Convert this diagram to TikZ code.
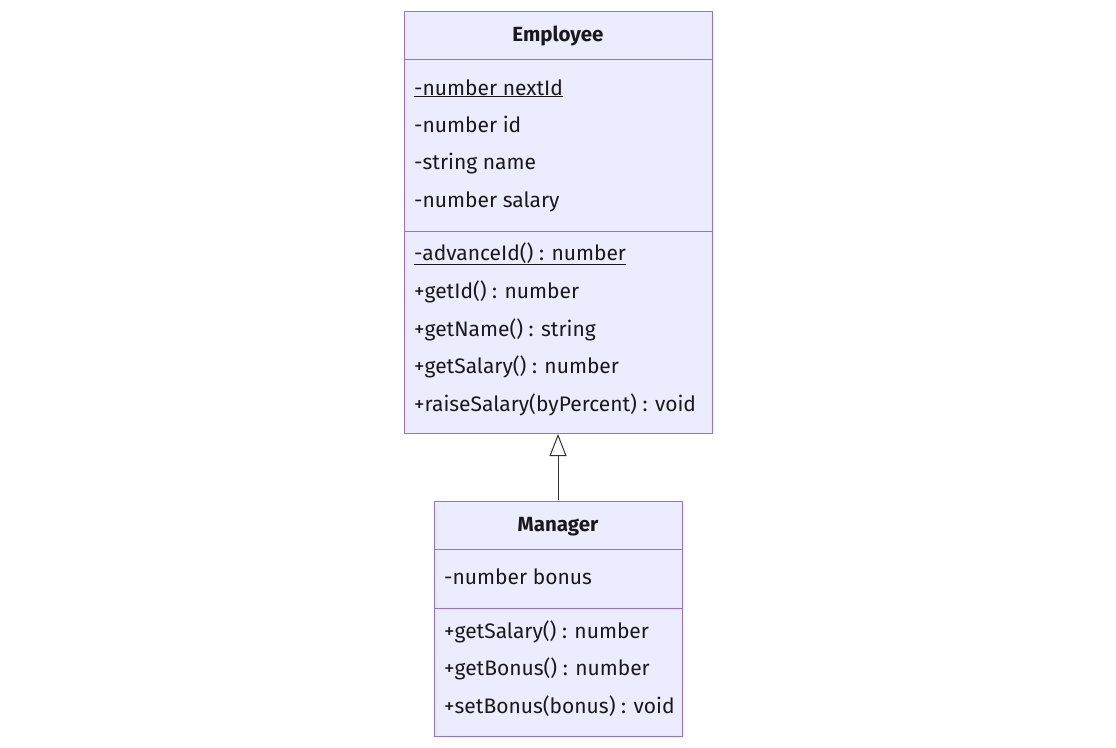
\documentclass[tikz,border=0pt]{standalone}
\usepackage{fontspec}
\setmainfont{Fira Sans}
\usetikzlibrary{arrows.meta}
\definecolor{boxfill}{HTML}{ECECFF}
\definecolor{boxline}{HTML}{9370DB}
\definecolor{edge}{HTML}{333333}
\tikzset{
  classbox/.style={draw=boxline, fill=boxfill, line width=1pt},
  divider/.style={draw=boxline, line width=1pt},
  member/.style={anchor=base west, inner sep=0pt, font=\fontsize{21}{24}\selectfont, text=black!90},
  title/.style={anchor=base, inner sep=0pt, font=\fontsize{20.5}{24}\selectfont\bfseries, text=black!90},
  inherit/.style={draw=edge, line width=1pt, -{Triangle[open, length=22pt, width=17pt, fill=white]}},
}
\begin{document}
\begin{tikzpicture}[x=1pt, y=-1pt]
\useasboundingbox (0,0) rectangle (1116,747);
% Employee
\path[classbox] (404,11) rectangle (712,433);
\draw[divider] (404,59) -- (712,59);
\draw[divider] (404,231) -- (712,231);
\node[title] (emp) at (558,41) {Employee};
\node[member] (e1) at (414,95) {\underline{-number nextId}};
\node[member] (e2) at (414,132) {-number id};
\node[member] (e3) at (414,169) {-string name};
\node[member] (e4) at (414,207) {-number salary};
\node[member] (e5) at (414,260) {\underline{-advanceId() : number}};
\node[member] (e6) at (414,298) {+getId() : number};
\node[member] (e7) at (414,336) {+getName() : string};
\node[member] (e8) at (414,373) {+getSalary() : number};
\node[member] (e9) at (414,411) {+raiseSalary(byPercent) : void};
\coordinate (empbottom) at (558,434);
% Manager
\path[classbox] (434,501) rectangle (682,736);
\draw[divider] (434,549) -- (682,549);
\draw[divider] (434,608) -- (682,608);
\node[title] (mgr) at (558,531) {Manager};
\node[member] (m1) at (444,584) {-number bonus};
\node[member] (m2) at (444,638) {+getSalary() : number};
\node[member] (m3) at (444,675) {+getBonus() : number};
\node[member] (m4) at (444,713) {+setBonus(bonus) : void};
\coordinate (mgrtop) at (558,500);
\draw[inherit] (mgrtop) -- (empbottom);
\end{tikzpicture}
\end{document}
